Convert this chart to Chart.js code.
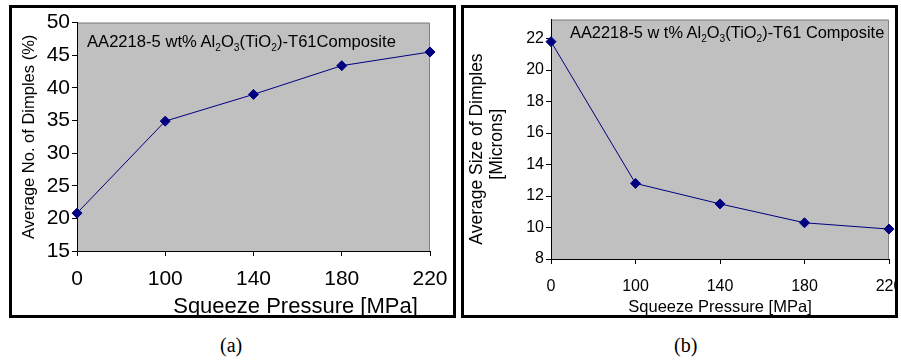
<!DOCTYPE html>
<html>
<head>
<meta charset="utf-8">
<script src="https://cdn.jsdelivr.net/npm/chart.js@4"></script>
<style>
body { margin: 0; background: #fff; width: 901px; height: 360px; position: relative; overflow: hidden; font-family: "Liberation Sans", Arial, sans-serif; }
.box { position: absolute; top: 5px; height: 313px; border: 3px solid #000; box-sizing: border-box; }
#boxA { left: 9px; width: 447px; }
#boxB { left: 461px; width: 437px; }
.note { position: absolute; white-space: nowrap; color: #000; }
.note sub { font-size: 62%; vertical-align: -0.35em; line-height: 0; }
.cap { position: absolute; top: 334px; font-family: "Liberation Serif", "Times New Roman", serif; font-size: 20px; }
</style>
</head>
<body>
<div class="box" id="boxA"><canvas id="chartA"></canvas></div>
<div class="box" id="boxB"><canvas id="chartB"></canvas></div>
<div class="note" style="left:87px; top:32px; font-size:16.6px;">AA2218-5 wt% Al<sub>2</sub>O<sub>3</sub>(TiO<sub>2</sub>)-T61Composite</div>
<div class="note" style="left:570px; top:23px; font-size:16.4px;">AA2218-5 w t% Al<sub>2</sub>O<sub>3</sub>(TiO<sub>2</sub>)-T61 Composite</div>
<div class="cap" style="left:220px;">(a)</div>
<div class="cap" style="left:674px;">(b)</div>
<script>
// Squeeze pressure categories (both panels)
var pressures = ["0", "100", "140", "180", "220"];
// (a) average number of dimples, %
var dimpleCount = [20.8, 34.9, 39.0, 43.4, 45.5];
// (b) average size of dimples, microns
var dimpleSize = [21.8, 12.8, 11.5, 10.3, 9.9];

var NAVY = "#000080";

// grey plot area with darker frame, like the old spreadsheet chart
var plotBg = {
    id: "plotBg",
    beforeDraw: function(chart) {
        var a = chart.chartArea, c = chart.ctx;
        c.save();
        c.fillStyle = "#c0c0c0";
        c.fillRect(a.left, a.top, a.right - a.left, a.bottom - a.top);
        c.strokeStyle = "#808080";
        c.lineWidth = 1;
        c.beginPath();
        c.moveTo(a.left, a.top + 0.5);
        c.lineTo(a.right - 0.5, a.top + 0.5);
        c.lineTo(a.right - 0.5, a.bottom);
        c.stroke();
        c.restore();
    }
};

function makeChart(id, values, opt) {
    var ctx = document.getElementById(id).getContext("2d");
    return new Chart(ctx, {
        type: "line",
        data: {
            labels: pressures,
            datasets: [{
                data: values,
                borderColor: NAVY,
                backgroundColor: NAVY,
                borderWidth: 1,
                pointStyle: "rectRot",
                pointRadius: opt.pointR,
                pointBorderWidth: 1,
                tension: 0,
                fill: false
            }]
        },
        options: {
            responsive: true,
            maintainAspectRatio: false,
            animation: false,
            layout: { padding: { top: opt.padTop, right: opt.padRight, left: 0, bottom: 0 } },
            plugins: { legend: { display: false }, tooltip: { enabled: false } },
            scales: {
                x: {
                    offset: false,
                    border: { color: "#000", width: 1 },
                    grid: { drawOnChartArea: false, drawTicks: true, tickLength: 5, color: "#000" },
                    ticks: { color: "#000", font: { family: "Liberation Sans", size: opt.tickSize }, padding: opt.xTickPad, maxRotation: 0, autoSkip: false },
                    title: { display: true, text: opt.xTitle, align: opt.xAlign, color: "#000",
                             font: { family: "Liberation Sans", size: opt.xTitleSize, lineHeight: 1 }, padding: { top: 0, bottom: opt.xTitleBottom } },
                    afterFit: function(s) { s.height = opt.xHeight; s.paddingLeft = 0; s.paddingRight = 0; }
                },
                y: {
                    min: opt.min, max: opt.max,
                    border: { color: "#000", width: 1 },
                    grid: { drawOnChartArea: false, drawTicks: true, tickLength: 5, color: "#000" },
                    ticks: { stepSize: opt.step, includeBounds: false, color: "#000", font: { family: "Liberation Sans", size: opt.tickSize }, padding: 2 },
                    title: { display: true, text: opt.yTitle, color: "#000",
                             font: { family: "Liberation Sans", size: opt.yTitleSize, lineHeight: opt.yTitleLH }, padding: { top: opt.yTitlePad, bottom: 0 } },
                    afterFit: function(s) { s.width = opt.yWidth; }
                }
            }
        },
        plugins: [plotBg]
    });
}

makeChart("chartA", dimpleCount, {
    min: 15, max: 50, step: 5, tickSize: 21, pointR: 5,
    yTitle: "Average No. of Dimples (%)", yTitleSize: 16.5, yTitleLH: 1.25, yTitlePad: 7,
    xTitle: "Squeeze Pressure [MPa]  ", xAlign: "end",
    xTitleSize: 22, xTickPad: 11, xTitleBottom: -3,
    xHeight: 64, yWidth: 65, padTop: 12, padRight: 23
});

makeChart("chartB", dimpleSize, {
    min: 8, max: 23.2, step: 2, tickSize: 16, pointR: 5,
    yTitle: ["Average Size of Dimples    ", "[Microns]  "], yTitleSize: 17.5, yTitleLH: 1.1, yTitlePad: 4,
    xTitle: "Squeeze Pressure [MPa]", xAlign: "center",
    xTitleSize: 16.5, xTickPad: 13, xTitleBottom: -1,
    xHeight: 56, yWidth: 87, padTop: 7, padRight: 4
});
</script>
</body>
</html>
